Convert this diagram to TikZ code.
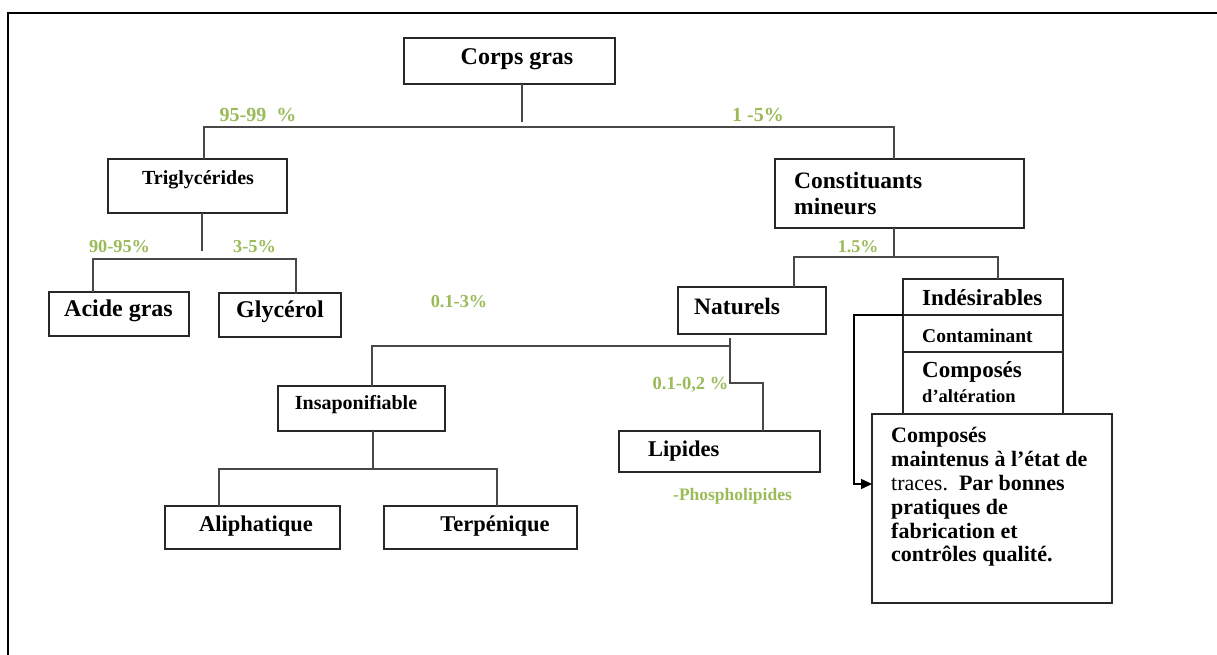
\documentclass[tikz,border=0pt]{standalone}
\usepackage{fontspec}
\setmainfont{Liberation Serif}
\usetikzlibrary{arrows.meta}
\definecolor{grn}{RGB}{155,187,89}
\definecolor{edge}{RGB}{40,40,40}
\begin{document}
\begin{tikzpicture}[x=1pt,y=-1pt,
  box/.style={draw=edge,line width=1.6pt,anchor=north west,inner sep=0pt,outer sep=0pt,rectangle},
  conn/.style={draw=edge!85!white,line width=1.5pt},
  txt/.style={inner sep=0pt,font=\bfseries},
  pct/.style={inner sep=0pt,text=grn,font=\bfseries}]
\useasboundingbox (0,0) rectangle (1217,654);
\clip (0,0) rectangle (1217,654);
\fill[white] (0,0) rectangle (1217,654);
% outer frame
\coordinate (fa) at (8,670);
\coordinate (fb) at (8,13);
\coordinate (fc) at (1230,13);
\draw[line width=1.7pt,black] (fa) -- (fb) -- (fc);

% boxes
\node[box,minimum width=211pt,minimum height=46pt] (corps) at (404,38) {};
\node[box,minimum width=179pt,minimum height=54pt] (trig) at (108,159) {};
\node[box,minimum width=140pt,minimum height=44pt] (acide) at (49,292) {};
\node[box,minimum width=122pt,minimum height=44pt] (glyc) at (219,293) {};
\node[box,minimum width=249pt,minimum height=69pt] (const) at (775,159) {};
\node[box,minimum width=148pt,minimum height=47pt] (nat) at (678,287) {};
\node[box,minimum width=160pt,minimum height=62pt] (compo) at (903,352) {};
\node[box,minimum width=160pt,minimum height=37pt] (conta) at (903,315) {};
\node[box,minimum width=160pt,minimum height=36pt,line width=2pt] (indes) at (903,279) {};
\node[box,minimum width=240pt,minimum height=189pt,fill=white] (big) at (872,414) {};
\node[box,minimum width=167pt,minimum height=45pt] (insap) at (278,386) {};
\node[box,minimum width=175pt,minimum height=43pt] (aliph) at (165,506) {};
\node[box,minimum width=193pt,minimum height=43pt] (terp) at (384,506) {};
\node[box,minimum width=201pt,minimum height=41pt] (lip) at (619,431) {};

% texts
\node[txt,font=\bfseries\fontsize{24}{26}\selectfont] (corpsT) at (517,59) {Corps gras};
\node[txt,font=\bfseries\fontsize{20}{22}\selectfont] (trigT) at (198,180) {Triglycérides};
\node[txt,font=\bfseries\fontsize{24}{26}\selectfont] (acideT) at (118.5,311) {Acide gras};
\node[txt,font=\bfseries\fontsize{24}{26}\selectfont] (glycT) at (280,312) {Glycérol};
\node[txt,font=\bfseries\fontsize{23.5}{26}\selectfont,anchor=west,align=left] (constT) at (794,193) {Constituants\\mineurs};
\node[txt,font=\bfseries\fontsize{23.5}{26}\selectfont,anchor=west] (natT) at (694,306) {Naturels};
\node[txt,font=\bfseries\fontsize{23}{26}\selectfont,anchor=west] (indesT) at (922,298) {Indésirables};
\node[txt,font=\bfseries\fontsize{19.5}{22}\selectfont,anchor=west] (contaT) at (922,336) {Contaminant};
\node[txt,font=\bfseries\fontsize{23}{26}\selectfont,anchor=west] (compoT) at (922,372) {Composés};
\node[txt,font=\bfseries\fontsize{18.5}{22}\selectfont,anchor=west] (alterT) at (922,396) {d’altération};
\node[txt,font=\bfseries\fontsize{22}{23.8}\selectfont,anchor=west,align=left] (bigT) at (891,497) {Composés\\maintenus à l’état de\\{\mdseries traces.}\ \ Par bonnes\\pratiques de\\fabrication et\\contrôles qualité.};
\node[txt,font=\bfseries\fontsize{20}{22}\selectfont] (insapT) at (356,405) {Insaponifiable};
\node[txt,font=\bfseries\fontsize{22.5}{25}\selectfont] (aliphT) at (256,526) {Aliphatique};
\node[txt,font=\bfseries\fontsize{22.5}{25}\selectfont] (terpT) at (495,526) {Terpénique};
\node[txt,font=\bfseries\fontsize{22.5}{25}\selectfont,anchor=west] (lipT) at (648,451) {Lipides};

% percentages
\node[pct,font=\bfseries\fontsize{20}{22}\selectfont] (p1) at (258,115) {95-99 \ \%};
\node[pct,font=\bfseries\fontsize{20}{22}\selectfont] (p2) at (758,115) {1 -5\%};
\node[pct,font=\bfseries\fontsize{18.3}{20}\selectfont] (p3) at (119.5,247) {90-95\%};
\node[pct,font=\bfseries\fontsize{18.3}{20}\selectfont] (p4) at (254.5,247) {3-5\%};
\node[pct,font=\bfseries\fontsize{18.3}{20}\selectfont] (p5) at (459,302) {0.1-3\%};
\node[pct,font=\bfseries\fontsize{18}{20}\selectfont] (p6) at (858,247) {1.5\%};
\node[pct,font=\bfseries\fontsize{18.5}{20}\selectfont] (p7) at (690.5,385) {0.1-0,2 \%};
\node[pct,font=\bfseries\fontsize{17.5}{20}\selectfont] (p8) at (732.5,496) {-Phospholipides};

% junction coordinates
\coordinate (j0) at (522,122);
\coordinate (j1) at (204,127);
\coordinate (j2) at (894,127);
\coordinate (j3) at (202,251);
\coordinate (j4) at (93,259);
\coordinate (j5) at (296,259);
\coordinate (j6) at (894,257);
\coordinate (j7) at (794,257);
\coordinate (j8) at (998,257);
\coordinate (j9) at (372,346);
\coordinate (j10) at (730,346);
\coordinate (j11) at (730,338);
\coordinate (j12) at (730,383);
\coordinate (j13) at (763,383);
\coordinate (j14) at (373,469);
\coordinate (j15) at (219,469);
\coordinate (j16) at (497,469);
\coordinate (j17) at (854,315);
\coordinate (j18) at (854,484);

% connectors
\draw[conn] (corps.south -| j0) -- (j0);
\draw[conn] (trig.north -| j1) -- (j1) -- (j2) -- (const.north -| j2);
\draw[conn] (trig.south -| j3) -- (j3);
\draw[conn] (acide.north -| j4) -- (j4) -- (j5) -- (glyc.north -| j5);
\draw[conn] (const.south -| j6) -- (j6);
\draw[conn] (nat.north -| j7) -- (j7) -- (j8) -- (indes.north -| j8);
\draw[conn] (insap.north -| j9) -- (j9) -- (j10);
\draw[conn] (j11) -- (j12) -- (j13) -- (lip.north -| j13);
\draw[conn] (insap.south -| j14) -- (j14);
\draw[conn] (aliph.north -| j15) -- (j15) -- (j16) -- (terp.north -| j16);
\draw[conn,draw=black,-{Triangle[length=11pt,width=10pt]}] (indes.west |- j17) -- (j17) -- (j18) -- (big.west |- j18);
\end{tikzpicture}
\end{document}
